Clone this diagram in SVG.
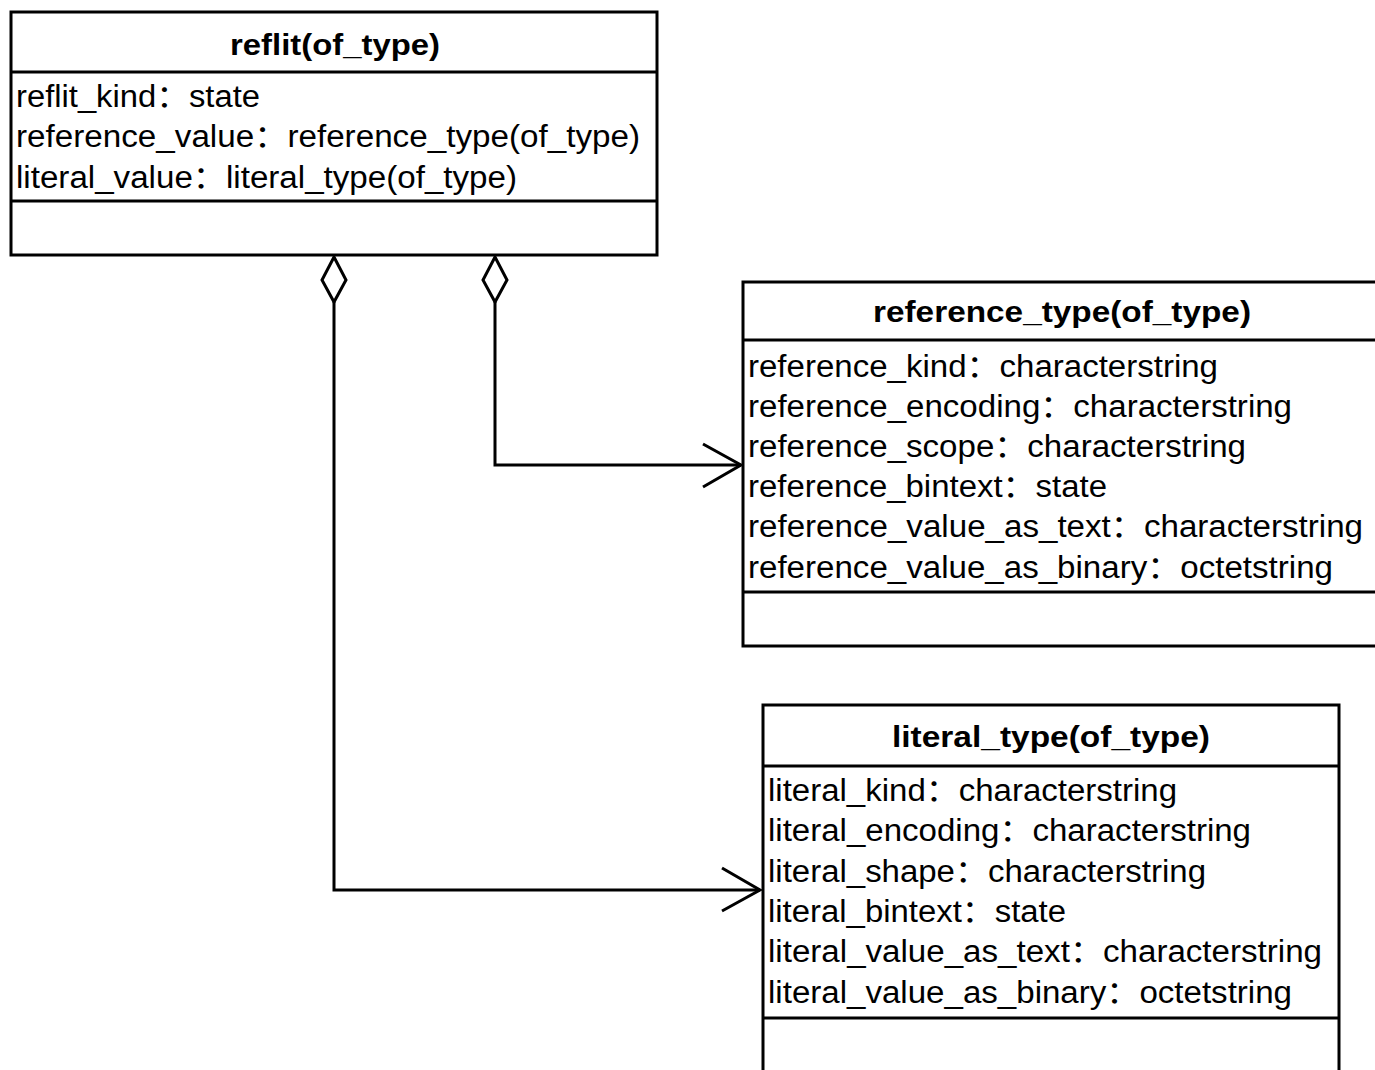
<svg xmlns="http://www.w3.org/2000/svg" width="1375" height="1070" viewBox="0 0 1375 1070">
<style>
.box{fill:#fff;stroke:#000;stroke-width:3}
.div{stroke:#000;stroke-width:3}
.t{font-family:"Liberation Sans","Noto Sans CJK SC",Arial,sans-serif;font-size:31px;fill:#000}
.h{font-family:"Liberation Sans",Arial,sans-serif;font-size:30px;font-weight:bold;fill:#000;text-anchor:middle}
.c{fill:none;stroke:#000;stroke-width:3}
</style>
<rect width="1375" height="1070" fill="#fff"/>
<g id="connectors">
<path class="c" d="M334,302 V890 H760"/>
<path class="c" d="M722,868 L760,890 L722,911"/>
<path class="c" d="M495,302 V465 H741"/>
<path class="c" d="M703,444 L741,465 L703,487"/>
<polygon class="c" fill="#fff" points="334,257 346,280 334,302 322,280" style="fill:#fff"/>
<polygon class="c" points="495,257 507,280 495,302 483,280" style="fill:#fff"/>
</g>
<g id="reflit">
<rect class="box" x="11" y="12" width="646" height="243"/>
<line class="div" x1="11" y1="72" x2="657" y2="72"/>
<line class="div" x1="11" y1="201" x2="657" y2="201"/>
<text class="h" x="335" y="55" textLength="210" lengthAdjust="spacingAndGlyphs">reflit(of_type)</text>
<text class="t" x="16" y="107" textLength="244" lengthAdjust="spacingAndGlyphs">reflit_kind：state</text>
<text class="t" x="16" y="147" textLength="624" lengthAdjust="spacingAndGlyphs">reference_value：reference_type(of_type)</text>
<text class="t" x="16" y="188" textLength="501" lengthAdjust="spacingAndGlyphs">literal_value：literal_type(of_type)</text>
</g>
<g id="reference_type">
<rect class="box" x="743" y="282" width="640" height="364"/>
<line class="div" x1="743" y1="340" x2="1375" y2="340"/>
<line class="div" x1="743" y1="592" x2="1375" y2="592"/>
<text class="h" x="1062" y="322" textLength="378" lengthAdjust="spacingAndGlyphs">reference_type(of_type)</text>
<text class="t" x="748" y="377" textLength="470" lengthAdjust="spacingAndGlyphs">reference_kind：characterstring</text>
<text class="t" x="748" y="417" textLength="544" lengthAdjust="spacingAndGlyphs">reference_encoding：characterstring</text>
<text class="t" x="748" y="457" textLength="498" lengthAdjust="spacingAndGlyphs">reference_scope：characterstring</text>
<text class="t" x="748" y="497" textLength="359" lengthAdjust="spacingAndGlyphs">reference_bintext：state</text>
<text class="t" x="748" y="537" textLength="615" lengthAdjust="spacingAndGlyphs">reference_value_as_text：characterstring</text>
<text class="t" x="748" y="578" textLength="585" lengthAdjust="spacingAndGlyphs">reference_value_as_binary：octetstring</text>
</g>
<g id="literal_type">
<rect class="box" x="763" y="705" width="576" height="380"/>
<line class="div" x1="763" y1="766" x2="1339" y2="766"/>
<line class="div" x1="763" y1="1018" x2="1339" y2="1018"/>
<text class="h" x="1051" y="747" textLength="318" lengthAdjust="spacingAndGlyphs">literal_type(of_type)</text>
<text class="t" x="768" y="801" textLength="409" lengthAdjust="spacingAndGlyphs">literal_kind：characterstring</text>
<text class="t" x="768" y="841" textLength="483" lengthAdjust="spacingAndGlyphs">literal_encoding：characterstring</text>
<text class="t" x="768" y="882" textLength="438" lengthAdjust="spacingAndGlyphs">literal_shape：characterstring</text>
<text class="t" x="768" y="922" textLength="298" lengthAdjust="spacingAndGlyphs">literal_bintext：state</text>
<text class="t" x="768" y="962" textLength="554" lengthAdjust="spacingAndGlyphs">literal_value_as_text：characterstring</text>
<text class="t" x="768" y="1003" textLength="524" lengthAdjust="spacingAndGlyphs">literal_value_as_binary：octetstring</text>
</g>
</svg>
